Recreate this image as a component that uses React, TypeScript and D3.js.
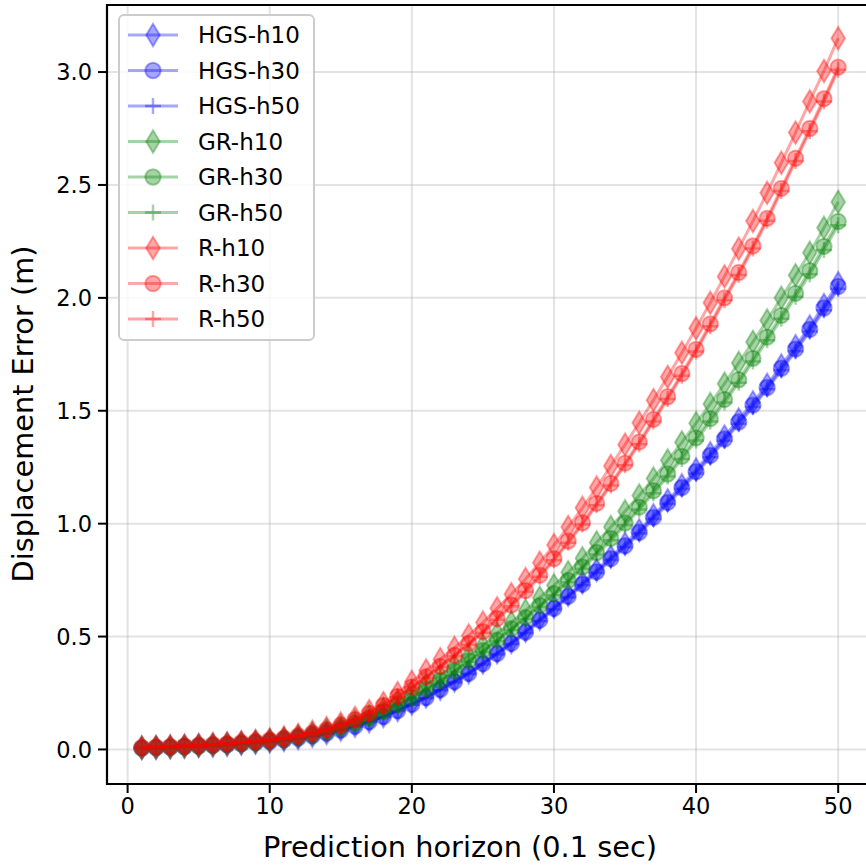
import React from "react";
import * as d3 from "d3";

const horizon = d3.range(1, 51);

const hgsH10 = [0.006, 0.008, 0.010, 0.013, 0.016, 0.019, 0.022, 0.026, 0.031, 0.036,
  0.043, 0.051, 0.061, 0.073, 0.088, 0.105, 0.125, 0.148, 0.175, 0.203,
  0.234, 0.269, 0.305, 0.342, 0.385, 0.430, 0.476, 0.526, 0.579, 0.632,
  0.685, 0.740, 0.795, 0.853, 0.911, 0.971, 1.037, 1.103, 1.170, 1.240,
  1.312, 1.386, 1.461, 1.537, 1.615, 1.700, 1.786, 1.873, 1.968, 2.065];
const hgsH30 = [0.006, 0.008, 0.010, 0.012, 0.015, 0.018, 0.021, 0.025, 0.030, 0.035,
  0.042, 0.050, 0.060, 0.072, 0.086, 0.103, 0.123, 0.146, 0.172, 0.200,
  0.230, 0.265, 0.300, 0.337, 0.380, 0.425, 0.470, 0.520, 0.573, 0.625,
  0.678, 0.732, 0.787, 0.845, 0.902, 0.962, 1.028, 1.094, 1.160, 1.230,
  1.302, 1.375, 1.450, 1.525, 1.603, 1.688, 1.773, 1.860, 1.955, 2.050];
const hgsH50 = [0.006, 0.008, 0.010, 0.012, 0.015, 0.017, 0.020, 0.024, 0.029, 0.034,
  0.041, 0.049, 0.059, 0.071, 0.085, 0.102, 0.121, 0.144, 0.170, 0.198,
  0.227, 0.262, 0.297, 0.334, 0.376, 0.421, 0.466, 0.515, 0.568, 0.620,
  0.673, 0.727, 0.782, 0.839, 0.896, 0.956, 1.021, 1.087, 1.153, 1.222,
  1.294, 1.367, 1.442, 1.517, 1.595, 1.679, 1.764, 1.851, 1.945, 2.040];

const grH10 = [0.007, 0.009, 0.011, 0.013, 0.016, 0.019, 0.023, 0.028, 0.033, 0.040,
  0.048, 0.058, 0.070, 0.085, 0.103, 0.125, 0.150, 0.180, 0.215, 0.253,
  0.290, 0.328, 0.372, 0.415, 0.460, 0.514, 0.563, 0.615, 0.672, 0.727,
  0.785, 0.847, 0.917, 0.985, 1.055, 1.125, 1.200, 1.280, 1.360, 1.445,
  1.530, 1.620, 1.712, 1.805, 1.900, 2.000, 2.100, 2.200, 2.310, 2.425];
const grH30 = [0.006, 0.008, 0.010, 0.013, 0.015, 0.018, 0.022, 0.026, 0.031, 0.038,
  0.046, 0.055, 0.066, 0.080, 0.097, 0.117, 0.140, 0.168, 0.198, 0.230,
  0.268, 0.305, 0.348, 0.393, 0.438, 0.485, 0.535, 0.585, 0.638, 0.690,
  0.748, 0.808, 0.872, 0.935, 1.003, 1.073, 1.146, 1.220, 1.298, 1.380,
  1.465, 1.550, 1.637, 1.732, 1.826, 1.922, 2.020, 2.120, 2.228, 2.338];
const grH50 = [0.006, 0.008, 0.010, 0.012, 0.015, 0.018, 0.021, 0.025, 0.030, 0.037,
  0.045, 0.054, 0.065, 0.078, 0.095, 0.115, 0.138, 0.165, 0.195, 0.227,
  0.264, 0.301, 0.343, 0.388, 0.432, 0.479, 0.529, 0.578, 0.631, 0.683,
  0.740, 0.800, 0.863, 0.926, 0.993, 1.063, 1.135, 1.209, 1.286, 1.368,
  1.452, 1.537, 1.624, 1.718, 1.812, 1.907, 2.005, 2.105, 2.212, 2.322];

const rH10 = [0.010, 0.012, 0.014, 0.017, 0.020, 0.024, 0.028, 0.033, 0.038, 0.044,
  0.053, 0.064, 0.078, 0.095, 0.115, 0.140, 0.170, 0.205, 0.250, 0.300,
  0.350, 0.400, 0.450, 0.505, 0.562, 0.625, 0.687, 0.755, 0.827, 0.905,
  0.985, 1.070, 1.160, 1.255, 1.350, 1.447, 1.547, 1.650, 1.757, 1.865,
  1.978, 2.095, 2.218, 2.340, 2.465, 2.598, 2.732, 2.870, 3.005, 3.150];
const rH30 = [0.009, 0.011, 0.013, 0.016, 0.019, 0.022, 0.026, 0.031, 0.036, 0.042,
  0.050, 0.060, 0.072, 0.088, 0.108, 0.132, 0.160, 0.195, 0.235, 0.277,
  0.322, 0.369, 0.417, 0.469, 0.522, 0.580, 0.640, 0.704, 0.772, 0.845,
  0.923, 1.004, 1.090, 1.178, 1.268, 1.362, 1.462, 1.562, 1.665, 1.772,
  1.885, 2.000, 2.112, 2.230, 2.352, 2.485, 2.618, 2.750, 2.882, 3.022];
const rH50 = [0.009, 0.011, 0.013, 0.015, 0.018, 0.021, 0.025, 0.030, 0.035, 0.041,
  0.049, 0.059, 0.071, 0.087, 0.106, 0.130, 0.158, 0.192, 0.232, 0.274,
  0.318, 0.365, 0.413, 0.464, 0.517, 0.574, 0.634, 0.698, 0.765, 0.838,
  0.915, 0.996, 1.081, 1.169, 1.259, 1.352, 1.452, 1.552, 1.655, 1.762,
  1.874, 1.989, 2.101, 2.219, 2.341, 2.473, 2.606, 2.738, 2.870, 3.010];

const xTicks = [0, 10, 20, 30, 40, 50];
const yTicks = [0, 0.5, 1.0, 1.5, 2.0, 2.5, 3.0];

const BLUE = "#0000ff";
const GREEN = "#008000";
const RED = "#ff0000";

const series = [
  { name: "HGS-h10", values: hgsH10, color: BLUE, marker: "d" },
  { name: "HGS-h30", values: hgsH30, color: BLUE, marker: "o" },
  { name: "HGS-h50", values: hgsH50, color: BLUE, marker: "+" },
  { name: "GR-h10", values: grH10, color: GREEN, marker: "d" },
  { name: "GR-h30", values: grH30, color: GREEN, marker: "o" },
  { name: "GR-h50", values: grH50, color: GREEN, marker: "+" },
  { name: "R-h10", values: rH10, color: RED, marker: "d" },
  { name: "R-h30", values: rH30, color: RED, marker: "o" },
  { name: "R-h50", values: rH50, color: RED, marker: "+" },
];

const W = 866, H = 868;
const margin = { left: 107, top: 5, right: 873, bottom: 784 };
const ALPHA = 0.35;
const FONT = "DejaVu Sans";

// marker glyph, centred on 0,0
function Marker({ kind, color }: { kind: string; color: string }) {
  if (kind === "d") {
    return <path d="M0,-11.3L6.8,0L0,11.3L-6.8,0Z" fill={color} fillOpacity={ALPHA}
      stroke={color} strokeOpacity={ALPHA} strokeWidth={2} />;
  }
  if (kind === "o") {
    return <circle r={7.7} fill={color} fillOpacity={ALPHA}
      stroke={color} strokeOpacity={ALPHA} strokeWidth={2} />;
  }
  return <path d="M-8,0H8M0,-8V8" fill="none" stroke={color} strokeOpacity={ALPHA} strokeWidth={2.5} />;
}

export default function App() {
  const x = d3.scaleLinear().domain([-1.45, 52.45]).range([margin.left, margin.right]);
  const y = d3.scaleLinear().domain([-0.153, 3.297]).range([margin.bottom, margin.top]);

  const line = d3.line<number>()
    .x((_, i) => x(horizon[i]))
    .y((v) => y(v));

  const legendX = 119, legendY = 15;
  const rowH = 35.5;

  return (
    <svg width={W} height={H} style={{ position: "absolute", left: 0, top: 0, background: "#fff" }}
      fontFamily={FONT}>
      <defs>
        <clipPath id="plotArea">
          <rect x={margin.left} y={margin.top} width={margin.right - margin.left} height={margin.bottom - margin.top} />
        </clipPath>
      </defs>
      <rect x={0} y={0} width={W} height={H} fill="#fff" />

      {/* grid */}
      <g stroke="#b0b0b0" strokeOpacity={0.35} strokeWidth={2}>
        {xTicks.map((t) => (
          <line key={"gx" + t} x1={x(t)} x2={x(t)} y1={margin.top} y2={margin.bottom} />
        ))}
        {yTicks.map((t) => (
          <line key={"gy" + t} x1={margin.left} x2={margin.right} y1={y(t)} y2={y(t)} />
        ))}
      </g>

      {/* series */}
      <g clipPath="url(#plotArea)">
        {series.map((s) => (
          <g key={s.name}>
            <path d={line(s.values) || ""} fill="none" stroke={s.color} strokeOpacity={ALPHA}
              strokeWidth={3} />
            {s.values.map((v, i) => (
              <g key={i} transform={`translate(${x(horizon[i])},${y(v)})`}>
                <Marker kind={s.marker} color={s.color} />
              </g>
            ))}
          </g>
        ))}
      </g>

      {/* spines */}
      <g stroke="#000" strokeWidth={2.2} fill="none">
        <line x1={margin.left} x2={margin.left} y1={margin.top - 1.1} y2={margin.bottom + 1.1} />
        <line x1={margin.left} x2={margin.right} y1={margin.bottom} y2={margin.bottom} />
        <line x1={margin.left} x2={margin.right} y1={margin.top} y2={margin.top} />
        <line x1={margin.right} x2={margin.right} y1={margin.top} y2={margin.bottom} />
      </g>

      {/* x ticks */}
      {xTicks.map((t) => (
        <g key={"xt" + t} transform={`translate(${x(t)},${margin.bottom})`}>
          <line y1={0} y2={9} stroke="#000" strokeWidth={2} />
          <text y={30} textAnchor="middle" fontSize={22.5} fill="#000">{t}</text>
        </g>
      ))}

      {/* y ticks */}
      {yTicks.map((t) => (
        <g key={"yt" + t} transform={`translate(${margin.left},${y(t)})`}>
          <line x1={0} x2={-9} stroke="#000" strokeWidth={2} />
          <text x={-15} dy="0.36em" textAnchor="end" fontSize={22.5} fill="#000">{d3.format(".1f")(t)}</text>
        </g>
      ))}

      {/* axis labels */}
      <text x={460} y={857} textAnchor="middle" fontSize={28.8} fill="#000">Prediction horizon (0.1 sec)</text>
      <text transform="translate(33,414) rotate(-90)" textAnchor="middle" fontSize={28.8} fill="#000">Displacement Error (m)</text>

      {/* legend */}
      <rect x={legendX} y={legendY} width={195} height={325} rx={5} fill="#fff" fillOpacity={0.8}
        stroke="#cccccc" strokeWidth={2} />
      {series.map((s, i) => {
        const cy = legendY + 20 + i * rowH;
        return (
          <g key={"lg" + s.name}>
            <line x1={128} x2={178} y1={cy} y2={cy} stroke={s.color} strokeOpacity={ALPHA} strokeWidth={3} />
            <g transform={`translate(153,${cy})`}>
              <Marker kind={s.marker} color={s.color} />
            </g>
            <text x={198} y={cy} dy="0.36em" fontSize={23} fill="#000">{s.name}</text>
          </g>
        );
      })}
    </svg>
  );
}
